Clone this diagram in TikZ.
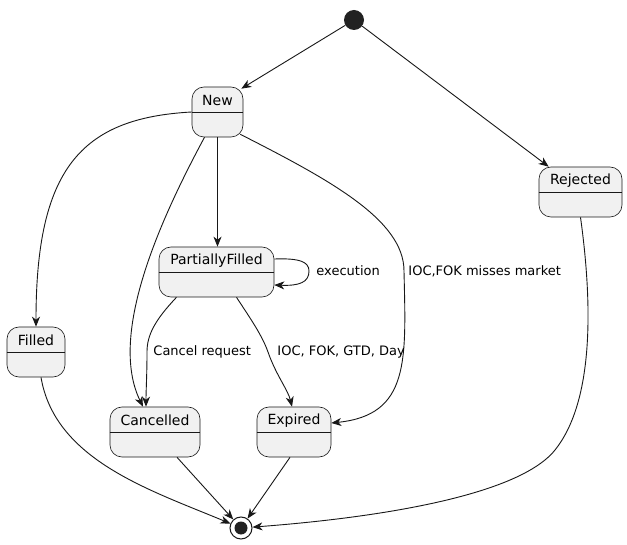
\documentclass[tikz,border=0pt]{standalone}
\usepackage{fontspec}
\setmainfont{DejaVu Sans}
\usetikzlibrary{arrows.meta, calc, positioning}
\definecolor{linec}{HTML}{181818}
\definecolor{boxfill}{HTML}{F1F1F1}
\definecolor{dotc}{HTML}{222222}
\tikzset{
    tr/.style = {-{Stealth[length=10pt, width=8pt, inset=3pt]}, draw=linec, line width=0.9pt}, % a transition
    state/.style = {draw=linec, fill=boxfill, rounded corners=12pt, minimum height=50pt, inner sep=0pt, line width=0.6pt},
    title/.style = {font=\fontsize{14}{16}\selectfont, inner sep=0pt},
    el/.style = {font=\fontsize{13}{15}\selectfont, inner sep=0pt}, % edge label
    start/.style = {circle, fill=dotc, minimum size=20pt, inner sep=0pt},
    stop/.style = {circle, draw=linec, line width=1pt, fill=white, minimum size=22pt, inner sep=0pt,
                   path picture={\fill[dotc] (path picture bounding box.center) circle (6.5pt);}}
}
\begin{document}
\begin{tikzpicture}[x=1pt, y=-1pt]
  \useasboundingbox[fill=white] (0,0) rectangle (627,545);
  \node[start] (init) at (354,20) {};
  \node[stop] (final) at (241,528) {};
  % states: name/x/y/width/text
  \foreach \n/\x/\y/\w/\t in {new/217.5/112/51/New, rej/580.5/192/83/Rejected,
      pf/216.5/272/115/PartiallyFilled, fil/36/352/58/Filled,
      can/155/432/90/Cancelled, exp/294/432/74/Expired}
  {
    \node[state, minimum width=\w pt] (\n) at (\x,\y) {};
    \node[title] (\n-t) at ([yshift=-14pt]\n.north) {\t};
    \draw[draw=linec, line width=0.6pt] ([yshift=-26pt]\n.north west) -- ([yshift=-26pt]\n.north east);
  }
  \draw[tr] (init) -- ([xshift=-2pt, yshift=-2pt]new.north east);
  \draw[tr] (init) -- ([xshift=10pt]rej.north west);
  \draw[tr] (new.west) .. controls (80,118) and (36,170) .. (fil.north);
  \draw[tr] ([xshift=-13pt]new.south) .. controls (160,220) and (108,335) .. ([xshift=-12pt]can.north);
  \draw[tr] (new.south) -- (new.south |- pf.north);
  \draw[tr] ([xshift=-3pt, yshift=3pt]new.south east) .. controls (330,180) and (404,220) .. (404,271)
      node[el, right=4pt] {IOC,FOK misses market}
      .. controls (406,360) and (410,415) .. ([yshift=9pt]exp.east);
  % self loop
  \draw[tr] ([yshift=13pt]pf.east) .. controls (300,258) and (309,262) .. (309,271)
      node[el, right=7pt] {execution}
      .. controls (309,282) and (300,286) .. ([yshift=-13pt]pf.east);
  \draw[tr] ([xshift=-40pt]pf.south) .. controls (155,320) and (147,335) .. (147,352)
      node[el, right=6pt] {Cancel request}
      .. controls (147,375) and (146,390) .. ([xshift=-9pt]can.north);
  \draw[tr] ([xshift=20pt]pf.south) .. controls (250,318) and (262,335) .. (268,352)
      node[el, right=9pt] {IOC, FOK, GTD, Day}
      .. controls (276,375) and (288,390) .. ([xshift=-2pt]exp.north);
  % into the final state
  \draw[tr] (rej.south) .. controls (592,300) and (595,400) .. (555,450)
      .. controls (511,505) and (320,522) .. (final);
  \draw[tr] ([xshift=5pt]fil.south) .. controls (55,460) and (150,490) .. (final);
  \draw[tr] ([xshift=22pt]can.south) -- (final);
  \draw[tr] ([xshift=-4pt]exp.south) -- (final);
\end{tikzpicture}
\end{document}
